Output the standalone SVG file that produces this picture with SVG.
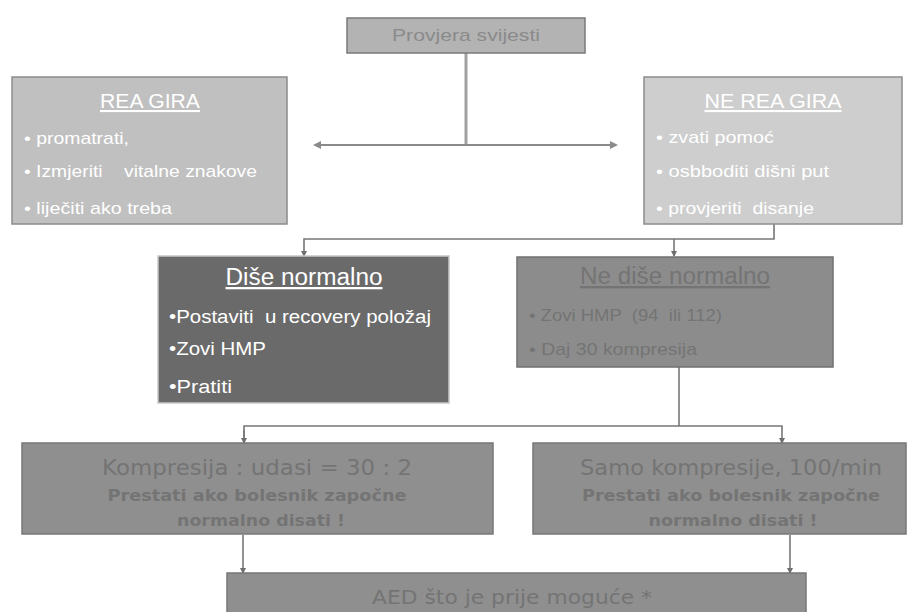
<svg xmlns="http://www.w3.org/2000/svg" width="917" height="612" viewBox="0 0 917 612">
<defs>
<marker id="ah" markerWidth="6" markerHeight="6" refX="5" refY="3" orient="auto" markerUnits="userSpaceOnUse">
<path d="M0,0 L6,3 L0,6 Z" fill="#6e6e6e"/>
</marker>
<marker id="ahl" markerWidth="8" markerHeight="8" refX="6" refY="4" orient="auto-start-reverse" markerUnits="userSpaceOnUse">
<path d="M0,0 L8,4 L0,8 Z" fill="#8a8a8a"/>
</marker>
</defs>
<style>
.t{font-family:"Liberation Sans",Arial,sans-serif}
.d{font-family:"DejaVu Sans",Verdana,sans-serif}
.w{fill:#ffffff}
.g{fill:#747474}
.c{stroke:#777777;stroke-width:1.6;fill:none}
</style>
<rect width="917" height="612" fill="#ffffff"/>
<g id="connectors">
<line x1="466" y1="53" x2="466" y2="145" stroke="#a0a0a0" stroke-width="3"/>
<line x1="315" y1="145" x2="616" y2="145" stroke="#8a8a8a" stroke-width="2" marker-start="url(#ahl)" marker-end="url(#ahl)"/>
<polyline class="c" points="774,224 774,239 304,239 304,256" marker-end="url(#ah)"/>
<line class="c" x1="674" y1="239" x2="674" y2="256" marker-end="url(#ah)"/>
<line class="c" x1="679" y1="367" x2="679" y2="426"/>
<polyline class="c" points="244,443 244,426 782,426 782,443" marker-end="url(#ah)"/>
<line class="c" x1="244" y1="430" x2="244" y2="443" marker-end="url(#ah)"/>
<line class="c" x1="243" y1="535" x2="243" y2="573" marker-end="url(#ah)"/>
<line class="c" x1="790" y1="535" x2="790" y2="573" marker-end="url(#ah)"/>
</g>
<g id="provjera">
<rect x="347" y="18" width="238" height="35" fill="#b3b3b3" stroke="#7a7a7a" stroke-width="1.5"/>
<text x="466" y="41" class="t" font-size="17" fill="#8a8a8a" text-anchor="middle" textLength="148" lengthAdjust="spacingAndGlyphs">Provjera svijesti</text>
</g>
<g id="rea-gira">
<rect x="12" y="77" width="275" height="147" fill="#c0c0c0" stroke="#8c8c8c" stroke-width="1.5"/>
<text x="150" y="108" class="t w" font-size="21" text-anchor="middle" text-decoration="underline" textLength="100" lengthAdjust="spacingAndGlyphs">REA GIRA</text>
<text x="24" y="144" class="t w" font-size="17" textLength="105" lengthAdjust="spacingAndGlyphs">• promatrati,</text>
<text x="24" y="177" class="t w" font-size="17" xml:space="preserve" textLength="233" lengthAdjust="spacingAndGlyphs">• Izmjeriti    vitalne znakove</text>
<text x="24" y="214" class="t w" font-size="17" textLength="148" lengthAdjust="spacingAndGlyphs">• liječiti ako treba</text>
</g>
<g id="ne-rea-gira">
<rect x="644" y="77" width="258" height="147" fill="#cecece" stroke="#8c8c8c" stroke-width="1.5"/>
<text x="773" y="108" class="t w" font-size="21" text-anchor="middle" text-decoration="underline" textLength="137" lengthAdjust="spacingAndGlyphs">NE REA GIRA</text>
<text x="656" y="143" class="t w" font-size="17" textLength="118" lengthAdjust="spacingAndGlyphs">• zvati pomoć</text>
<text x="656" y="177" class="t w" font-size="17" textLength="173" lengthAdjust="spacingAndGlyphs">• osbboditi dišni put</text>
<text x="656" y="214" class="t w" font-size="17" xml:space="preserve" textLength="158" lengthAdjust="spacingAndGlyphs">• provjeriti  disanje</text>
</g>
<g id="dise-normalno">
<rect x="158" y="256" width="291" height="147" fill="#6a6a6a" stroke="#c8c8c8" stroke-width="1.5"/>
<text x="304" y="285" class="t w" font-size="23" text-anchor="middle" text-decoration="underline" textLength="157" lengthAdjust="spacingAndGlyphs">Diše normalno</text>
<text x="169" y="323" class="t w" font-size="18" xml:space="preserve" textLength="262" lengthAdjust="spacingAndGlyphs">•Postaviti  u recovery položaj</text>
<text x="169" y="355" class="t w" font-size="18" textLength="97" lengthAdjust="spacingAndGlyphs">•Zovi HMP</text>
<text x="169" y="393" class="t w" font-size="18" textLength="63" lengthAdjust="spacingAndGlyphs">•Pratiti</text>
</g>
<g id="ne-dise-normalno">
<rect x="517" y="257" width="316" height="110" fill="#8c8c8c" stroke="#707070" stroke-width="1.5"/>
<text x="675" y="284" class="t g" font-size="23" text-anchor="middle" text-decoration="underline" textLength="190" lengthAdjust="spacingAndGlyphs">Ne diše normalno</text>
<text x="529" y="321" class="t g" font-size="17" xml:space="preserve" textLength="193" lengthAdjust="spacingAndGlyphs">• Zovi HMP  (94  ili 112)</text>
<text x="529" y="355" class="t g" font-size="17" textLength="168" lengthAdjust="spacingAndGlyphs">• Daj 30 kompresija</text>
</g>
<g id="kompresija-udasi">
<rect x="22" y="443" width="471" height="91" fill="#8f8f8f" stroke="#777777" stroke-width="1.5"/>
<text x="257" y="475" class="d g" font-size="21" text-anchor="middle" textLength="310" lengthAdjust="spacingAndGlyphs">Kompresija : udasi = 30 : 2</text>
<text x="257" y="501" class="d g" font-size="16.5" font-weight="bold" text-anchor="middle" textLength="299" lengthAdjust="spacingAndGlyphs">Prestati ako bolesnik započne</text>
<text x="261" y="526" class="d g" font-size="16.5" font-weight="bold" text-anchor="middle" textLength="168" lengthAdjust="spacingAndGlyphs">normalno disati !</text>
</g>
<g id="samo-kompresije">
<rect x="533" y="443" width="373" height="91" fill="#8f8f8f" stroke="#777777" stroke-width="1.5"/>
<text x="731" y="475" class="d g" font-size="21" text-anchor="middle" textLength="302" lengthAdjust="spacingAndGlyphs">Samo kompresije, 100/min</text>
<text x="731" y="501" class="d g" font-size="16.5" font-weight="bold" text-anchor="middle" textLength="298" lengthAdjust="spacingAndGlyphs">Prestati ako bolesnik započne</text>
<text x="733" y="526" class="d g" font-size="16.5" font-weight="bold" text-anchor="middle" textLength="169" lengthAdjust="spacingAndGlyphs">normalno disati !</text>
</g>
<g id="aed">
<rect x="227" y="573" width="579" height="45" fill="#8f8f8f" stroke="#777777" stroke-width="1.5"/>
<text x="512" y="604" class="d g" font-size="20" text-anchor="middle" textLength="280" lengthAdjust="spacingAndGlyphs">AED što je prije moguće *</text>
</g>
</svg>
